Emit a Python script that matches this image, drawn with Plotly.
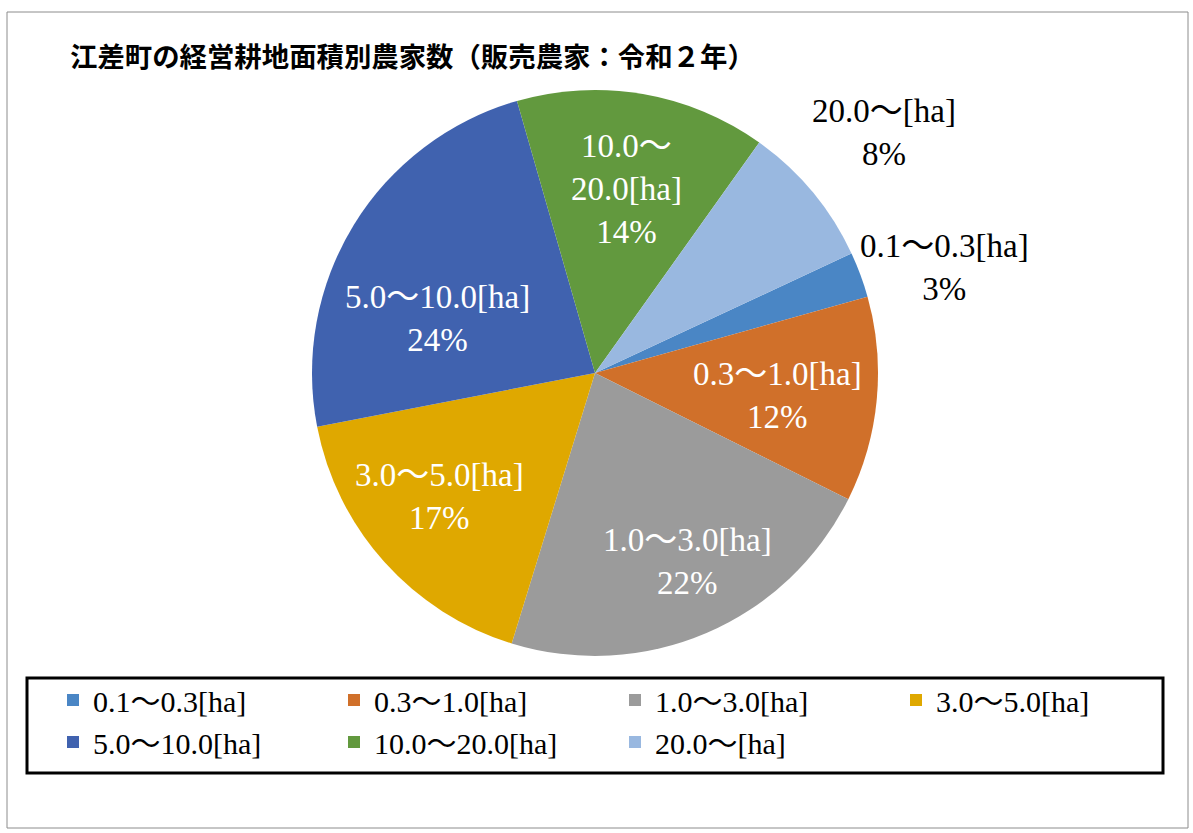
import math
import plotly.graph_objects as go

# ---- data ----
categories = ["0.1～0.3[ha]", "0.3～1.0[ha]", "1.0～3.0[ha]", "3.0～5.0[ha]",
              "5.0～10.0[ha]", "10.0～20.0[ha]", "20.0～[ha]"]
shares = [2.6, 11.7, 22.4, 17.2, 23.6, 14.3, 8.2]
label_lines = ["0.1～0.3[ha]", "0.3～1.0[ha]", "1.0～3.0[ha]", "3.0～5.0[ha]",
               "5.0～10.0[ha]", "10.0～<br>20.0[ha]", "20.0～[ha]"]
title_text = "江差町の経営耕地面積別農家数（販売農家：令和２年）"

# ---- style ----
colors = ["#4A86C5", "#D0702A", "#9B9B9B", "#DFA800", "#4062AF", "#62993E", "#99B8E0"]
W, H = 1193, 833
CX, CY, R = 595, 373, 283          # pie centre / radius in px
ROT = 65                           # first slice start angle (clockwise from top)
# label placement: (radius factor, angle adjust, inside?)
label_style = [(1.29, 3.6, False), (0.65, 1.5, True), (0.74, -2.9, True),
               (0.70, 3.5, True), (0.59, -12.3, True), (0.66, 0.0, True),
               (1.33, 0.0, False)]
FONT = "Liberation Serif, 'Noto Sans CJK JP', serif"

fig = go.Figure(go.Pie(
    labels=categories, values=shares, sort=False, direction="clockwise",
    rotation=ROT, textinfo="none", hoverinfo="label+percent",
    marker=dict(colors=colors, line=dict(width=0)),
    domain=dict(x=[(CX - R) / W, (CX + R) / W], y=[(H - CY - R) / H, (H - CY + R) / H]),
))

# labels computed from data angles
total = sum(shares)
start = ROT
annotations = []
for i, v in enumerate(shares):
    span = v / total * 360
    mid = start + span / 2
    start += span
    rf, adj, inside = label_style[i]
    a = math.radians(mid + adj)
    px = CX + rf * R * math.sin(a)
    py = CY - rf * R * math.cos(a)
    pct = round(v / total * 100)
    annotations.append(dict(
        x=px / W, y=1 - py / H, xref="paper", yref="paper", showarrow=False,
        text=f"{label_lines[i]}<br>{pct}%", align="center",
        font=dict(family=FONT, size=33, color="white" if inside else "black"),
        xanchor="center", yanchor="middle"))

annotations.append(dict(
    x=68 / W, y=1 - 55 / H, xref="paper", yref="paper", showarrow=False,
    text=f"<b>{title_text}</b>", xanchor="left", yanchor="middle",
    font=dict(family="'Noto Sans CJK JP', sans-serif", size=27.4, color="black")))

shapes = [
    dict(type="rect", xref="paper", yref="paper", x0=7 / W, x1=1188 / W,
         y0=1 - 828 / H, y1=1 - 12 / H, line=dict(color="#8C8C8C", width=1)),
    dict(type="rect", xref="paper", yref="paper", x0=27 / W, x1=1163 / W,
         y0=1 - 773 / H, y1=1 - 678 / H, line=dict(color="black", width=3)),
]

fig.update_layout(
    width=W, height=H, margin=dict(l=0, r=0, t=0, b=0),
    paper_bgcolor="white", plot_bgcolor="white",
    annotations=annotations, shapes=shapes,
    showlegend=True,
    legend=dict(orientation="h", x=53 / W, xanchor="left", y=1 - 721 / H, yanchor="middle",
                entrywidth=236, entrywidthmode="pixels",
                font=dict(family=FONT, size=30, color="black"),
                bgcolor="rgba(0,0,0,0)", itemclick=False, traceorder="normal"),
)

fig.write_html("out.html", config={"displayModeBar": False},
               post_script="document.body.style.margin='0';document.body.style.padding='0';")
